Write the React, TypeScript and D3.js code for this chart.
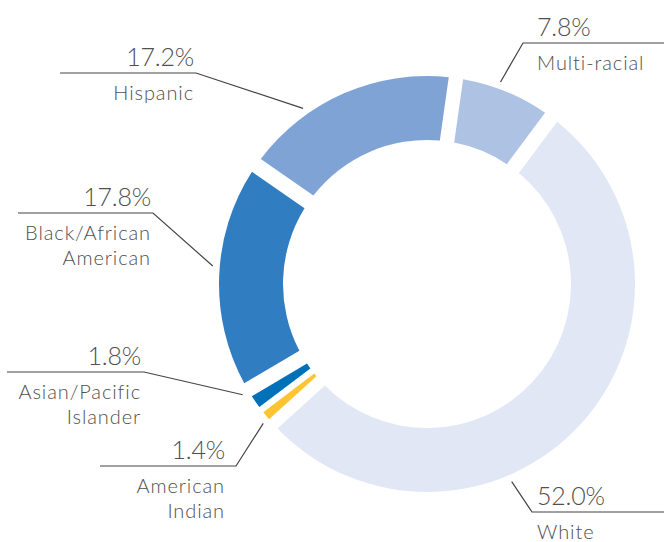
import React from "react";
import * as d3 from "d3";

const categories = ["Multi-racial", "White", "American Indian", "Asian/Pacific Islander", "Black/African American", "Hispanic"];
const values = [7.8, 52.0, 1.4, 1.8, 17.8, 17.2];
const valueLabels = ["7.8%", "52.0%", "1.4%", "1.8%", "17.8%", "17.2%"];
const labelLines = [["Multi-racial"], ["White"], ["American", "Indian"], ["Asian/Pacific", "Islander"], ["Black/African", "American"], ["Hispanic"]];

const colors = ["#aec3e3", "#e1e7f5", "#fec530", "#0070b9", "#307dc1", "#7fa3d4"];
// white gap (px) after each slice, clockwise
const gaps = [15, 12.5, 6.5, 15, 15.5, 14.5];

// label layout: leader anchor angle (deg), elbow point, line far end, text x, side
const layout = [
  { ang: 20, ex: 523, ey: 43, far: 664, tx: 537, side: "right" },
  { ang: 156.8, ex: 532, ey: 512, far: 664, tx: 537, side: "right" },
  { ang: 229.6, ex: 236, ey: 466, far: 100, tx: 225, side: "left" },
  { ang: 239, ex: 144, ey: 372, far: 7, tx: 141, side: "left" },
  { ang: 274.8, ex: 153, ey: 213, far: 18, tx: 151, side: "left" },
  { ang: 324.8, ex: 196, ey: 73, far: 60, tx: 194, side: "left" },
];

const W = 664, H = 542;
const cx = 427, cy = 284;
const outerR = 208, innerR = 144;
const startDeg = 8;

function slicePath(a0: number, a1: number, gs: number, ge: number) {
  const p = d3.path();
  const os = a0 + Math.asin(gs / 2 / outerR) - Math.PI / 2;
  const oe = a1 - Math.asin(ge / 2 / outerR) - Math.PI / 2;
  const is = a0 + Math.asin(gs / 2 / innerR) - Math.PI / 2;
  const ie = a1 - Math.asin(ge / 2 / innerR) - Math.PI / 2;
  p.moveTo(outerR * Math.cos(os), outerR * Math.sin(os));
  p.arc(0, 0, outerR, os, oe, false);
  p.lineTo(innerR * Math.cos(ie), innerR * Math.sin(ie));
  p.arc(0, 0, innerR, ie, is, true);
  p.closePath();
  return p.toString();
}

export default function App() {
  const pie = d3.pie<number>().sort(null).value((d) => d)
    .startAngle((startDeg * Math.PI) / 180)
    .endAngle((startDeg * Math.PI) / 180 + 2 * Math.PI);
  const arcs = pie(values);
  const n = arcs.length;
  const font = "Lato, 'Noto Sans', sans-serif";
  return (
    <svg width={W} height={H} style={{ position: "absolute", left: 0, top: 0, background: "#fff" }}>
      <g transform={`translate(${cx},${cy})`}>
        {arcs.map((a, i) => (
          <path key={categories[i]} d={slicePath(a.startAngle, a.endAngle, gaps[(i - 1 + n) % n], gaps[i])} fill={colors[i]} />
        ))}
      </g>
      {layout.map((l, i) => {
        const [px, py] = d3.pointRadial((l.ang * Math.PI) / 180, 215);
        const ax = cx + px, ay = cy + py;
        const anchor = l.side === "right" ? "start" : "end";
        return (
          <g key={categories[i]}>
            <polyline points={`${ax},${ay} ${l.ex},${l.ey} ${l.far},${l.ey}`} fill="none" stroke="#444" strokeWidth={1.2} />
            <text x={l.tx} y={l.ey - 7} textAnchor={anchor} fontFamily={font} fontWeight={300} fontSize={25} fill="#4f4f4f" letterSpacing={-0.2}>
              {valueLabels[i]}
            </text>
            {labelLines[i].map((t, j) => (
              <text key={t} x={l.tx} y={l.ey + 27 + j * 24.5} textAnchor={anchor} fontFamily={font} fontWeight={300} fontSize={20} fill="#4f4f4f" letterSpacing={0.9}>
                {t}
              </text>
            ))}
          </g>
        );
      })}
    </svg>
  );
}
